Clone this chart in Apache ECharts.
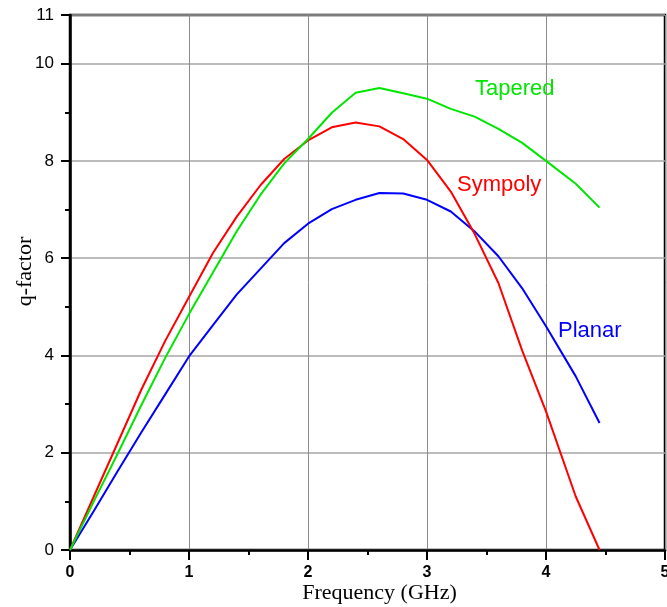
<!DOCTYPE html>
<html>
<head>
<meta charset="utf-8">
<script src="https://cdn.jsdelivr.net/npm/echarts@6/dist/echarts.min.js"></script>
<style>
  html, body { margin: 0; padding: 0; background: #fff; }
  #chart { width: 667px; height: 607px; }
</style>
</head>
<body>
<div id="chart"></div>
<script>
// frequency points (GHz)
const freq = [0, 0.2, 0.4, 0.6, 0.8, 1.0, 1.2, 1.4, 1.6, 1.8, 2.0, 2.2, 2.4, 2.6, 2.8, 3.0, 3.2, 3.4, 3.6, 3.8, 4.0, 4.25, 4.45];
const tapered = [0, 1.0, 1.98, 2.98, 3.95, 4.85, 5.7, 6.55, 7.3, 7.95, 8.45, 8.99, 9.4, 9.5, 9.39, 9.28, 9.07, 8.91, 8.66, 8.37, 8.0, 7.53, 7.04];
const sympoly = [0, 1.1, 2.2, 3.3, 4.3, 5.2, 6.1, 6.85, 7.5, 8.04, 8.42, 8.69, 8.79, 8.71, 8.45, 8.02, 7.37, 6.5, 5.49, 4.1, 2.85, 1.1, 0];
const planar = [0, 0.8, 1.62, 2.42, 3.2, 3.98, 4.62, 5.25, 5.78, 6.31, 6.71, 7.01, 7.2, 7.34, 7.33, 7.2, 6.96, 6.55, 6.04, 5.38, 4.6, 3.57, 2.61];

const seriesNames = ['Tapered', 'Sympoly', 'Planar'];
const seriesColors = ['#00e600', '#ff0000', '#0000ff'];
const seriesValues = [tapered, sympoly, planar];

const pairs = (ys) => freq.map((x, i) => [x, ys[i]]);

const chart = echarts.init(document.getElementById('chart'));

const sans = 'Liberation Sans';
const serif = 'Liberation Serif';

const option = {
  backgroundColor: '#fff',
  animation: false,
  grid: {
    left: 70, right: 2, top: 15, bottom: 57,
    outerBoundsMode: 'none', containLabel: false,
    show: true, borderColor: '#000', borderWidth: 2.5, backgroundColor: 'transparent'
  },
  xAxis: [
    {
      type: 'value', min: 0, max: 5, interval: 1,
      name: 'Frequency (GHz)', nameLocation: 'middle', nameGap: 32, nameMoveOverlap: false,
      nameTextStyle: { fontFamily: serif, fontSize: 22, color: '#000', padding: [0, 0, 0, 24] },
      axisLine: { lineStyle: { color: '#000', width: 2.5 } },
      axisTick: { inside: false, length: 10, lineStyle: { color: '#000', width: 2 } },
      minorTick: { show: true, splitNumber: 2, length: 5, lineStyle: { color: '#000', width: 2 } },
      axisLabel: { fontFamily: sans, fontSize: 16, fontWeight: 'bold', color: '#000', margin: 15 },
      splitLine: { show: true, lineStyle: { color: '#8c8c8c', width: 1 } }
    }
  ],
  yAxis: [
    {
      type: 'value', min: 0, max: 11, interval: 2, position: 'left',
      name: 'q-factor', nameLocation: 'middle', nameGap: 34, nameRotate: 90, nameMoveOverlap: false,
      nameTextStyle: { fontFamily: serif, fontSize: 22, color: '#000', padding: [0, 0, 0, 22] },
      axisLine: { lineStyle: { color: '#000', width: 2.5 } },
      axisTick: { inside: false, length: 9, lineStyle: { color: '#000', width: 2 } },
      axisLabel: { fontFamily: sans, fontSize: 17, color: '#000', margin: 16, showMaxLabel: true },
      splitLine: { show: true, lineStyle: { color: '#a6a6a6', width: 1.5 } }
    },
    {
      // minor ticks only, every unit
      type: 'value', min: 0, max: 11, interval: 1, position: 'left', offset: 0,
      axisLine: { show: false },
      axisTick: { inside: false, length: 5, lineStyle: { color: '#000', width: 2 } },
      axisLabel: { show: false },
      splitLine: { show: false }
    }
  ],
  series: seriesNames.map((name, k) => ({
    name: name,
    type: 'line',
    xAxisIndex: 0,
    yAxisIndex: 0,
    data: pairs(seriesValues[k]),
    showSymbol: false,
    symbol: 'none',
    lineStyle: { color: seriesColors[k], width: 2 },
    itemStyle: { color: seriesColors[k] },
    z: 3 - k + 2
  })),
  graphic: [
    { type: 'text', left: 475, top: 78, style: { text: 'Tapered', fill: seriesColors[0], font: '22px "Liberation Sans"' } },
    { type: 'text', left: 457, top: 174, style: { text: 'Sympoly', fill: seriesColors[1], font: '22px "Liberation Sans"' } },
    { type: 'text', left: 558, top: 320, style: { text: 'Planar', fill: seriesColors[2], font: '22px "Liberation Sans"' } }
  ]
};

chart.setOption(option);
</script>
</body>
</html>
